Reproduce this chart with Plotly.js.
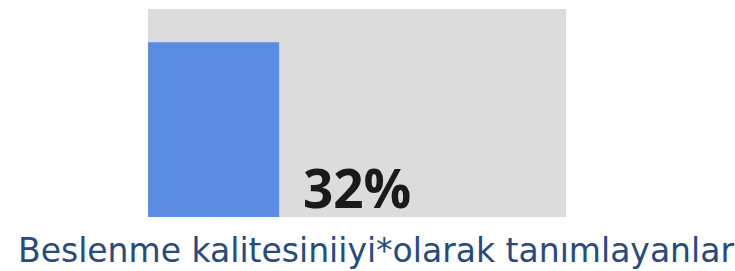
<!DOCTYPE html>
<html><head><meta charset="utf-8">
<script src="https://cdn.plot.ly/plotly-3.0.1.min.js"></script>
<style>html,body{margin:0;padding:0;background:#fff;}#chart{width:735px;height:271px;}</style>
</head><body><div id="chart"></div>
<script>
const categories = ["Beslenme kalitesiniiyi*olarak tanımlayanlar"];
const values = [32];
const labels = ["32%"];

const trace = {
  type: 'bar',
  x: values.map(v => v / 2),
  y: values,
  width: values,
  marker: {color: '#5b8ce1'},
  hoverinfo: 'skip',
  showlegend: false
};

const pw = 735 - 148 - 169, ph = 271 - 9 - 54;
const layout = {
  width: 735, height: 271,
  margin: {l: 148, r: 169, t: 9, b: 54, pad: 0},
  paper_bgcolor: '#ffffff',
  plot_bgcolor: '#dcdcdc',
  xaxis: {range: [0, 102], showgrid: false, zeroline: false, showticklabels: false, ticks: '', fixedrange: true},
  yaxis: {range: [0, 38.1], showgrid: false, zeroline: false, showticklabels: false, ticks: '', fixedrange: true},
  annotations: [
    {
      x: (357 - 148) / pw, y: ((271 - 54) - 187) / ph, xref: 'paper', yref: 'paper',
      xanchor: 'center', yanchor: 'middle',
      text: '<b>' + labels[0] + '</b>', showarrow: false,
      font: {family: 'Open Sans, sans-serif', size: 53, color: '#1a1a1a'}
    },
    {
      x: (376 - 148) / pw, y: -(250 - (271 - 54)) / ph, xref: 'paper', yref: 'paper',
      xanchor: 'center', yanchor: 'middle',
      showarrow: false,
      text: categories[0],
      font: {family: 'DejaVu Sans, sans-serif', size: 33, color: '#264b7e'}
    }
  ]
};

Plotly.newPlot('chart', [trace], layout, {staticPlot: true, displayModeBar: false});
</script>
</body></html>
